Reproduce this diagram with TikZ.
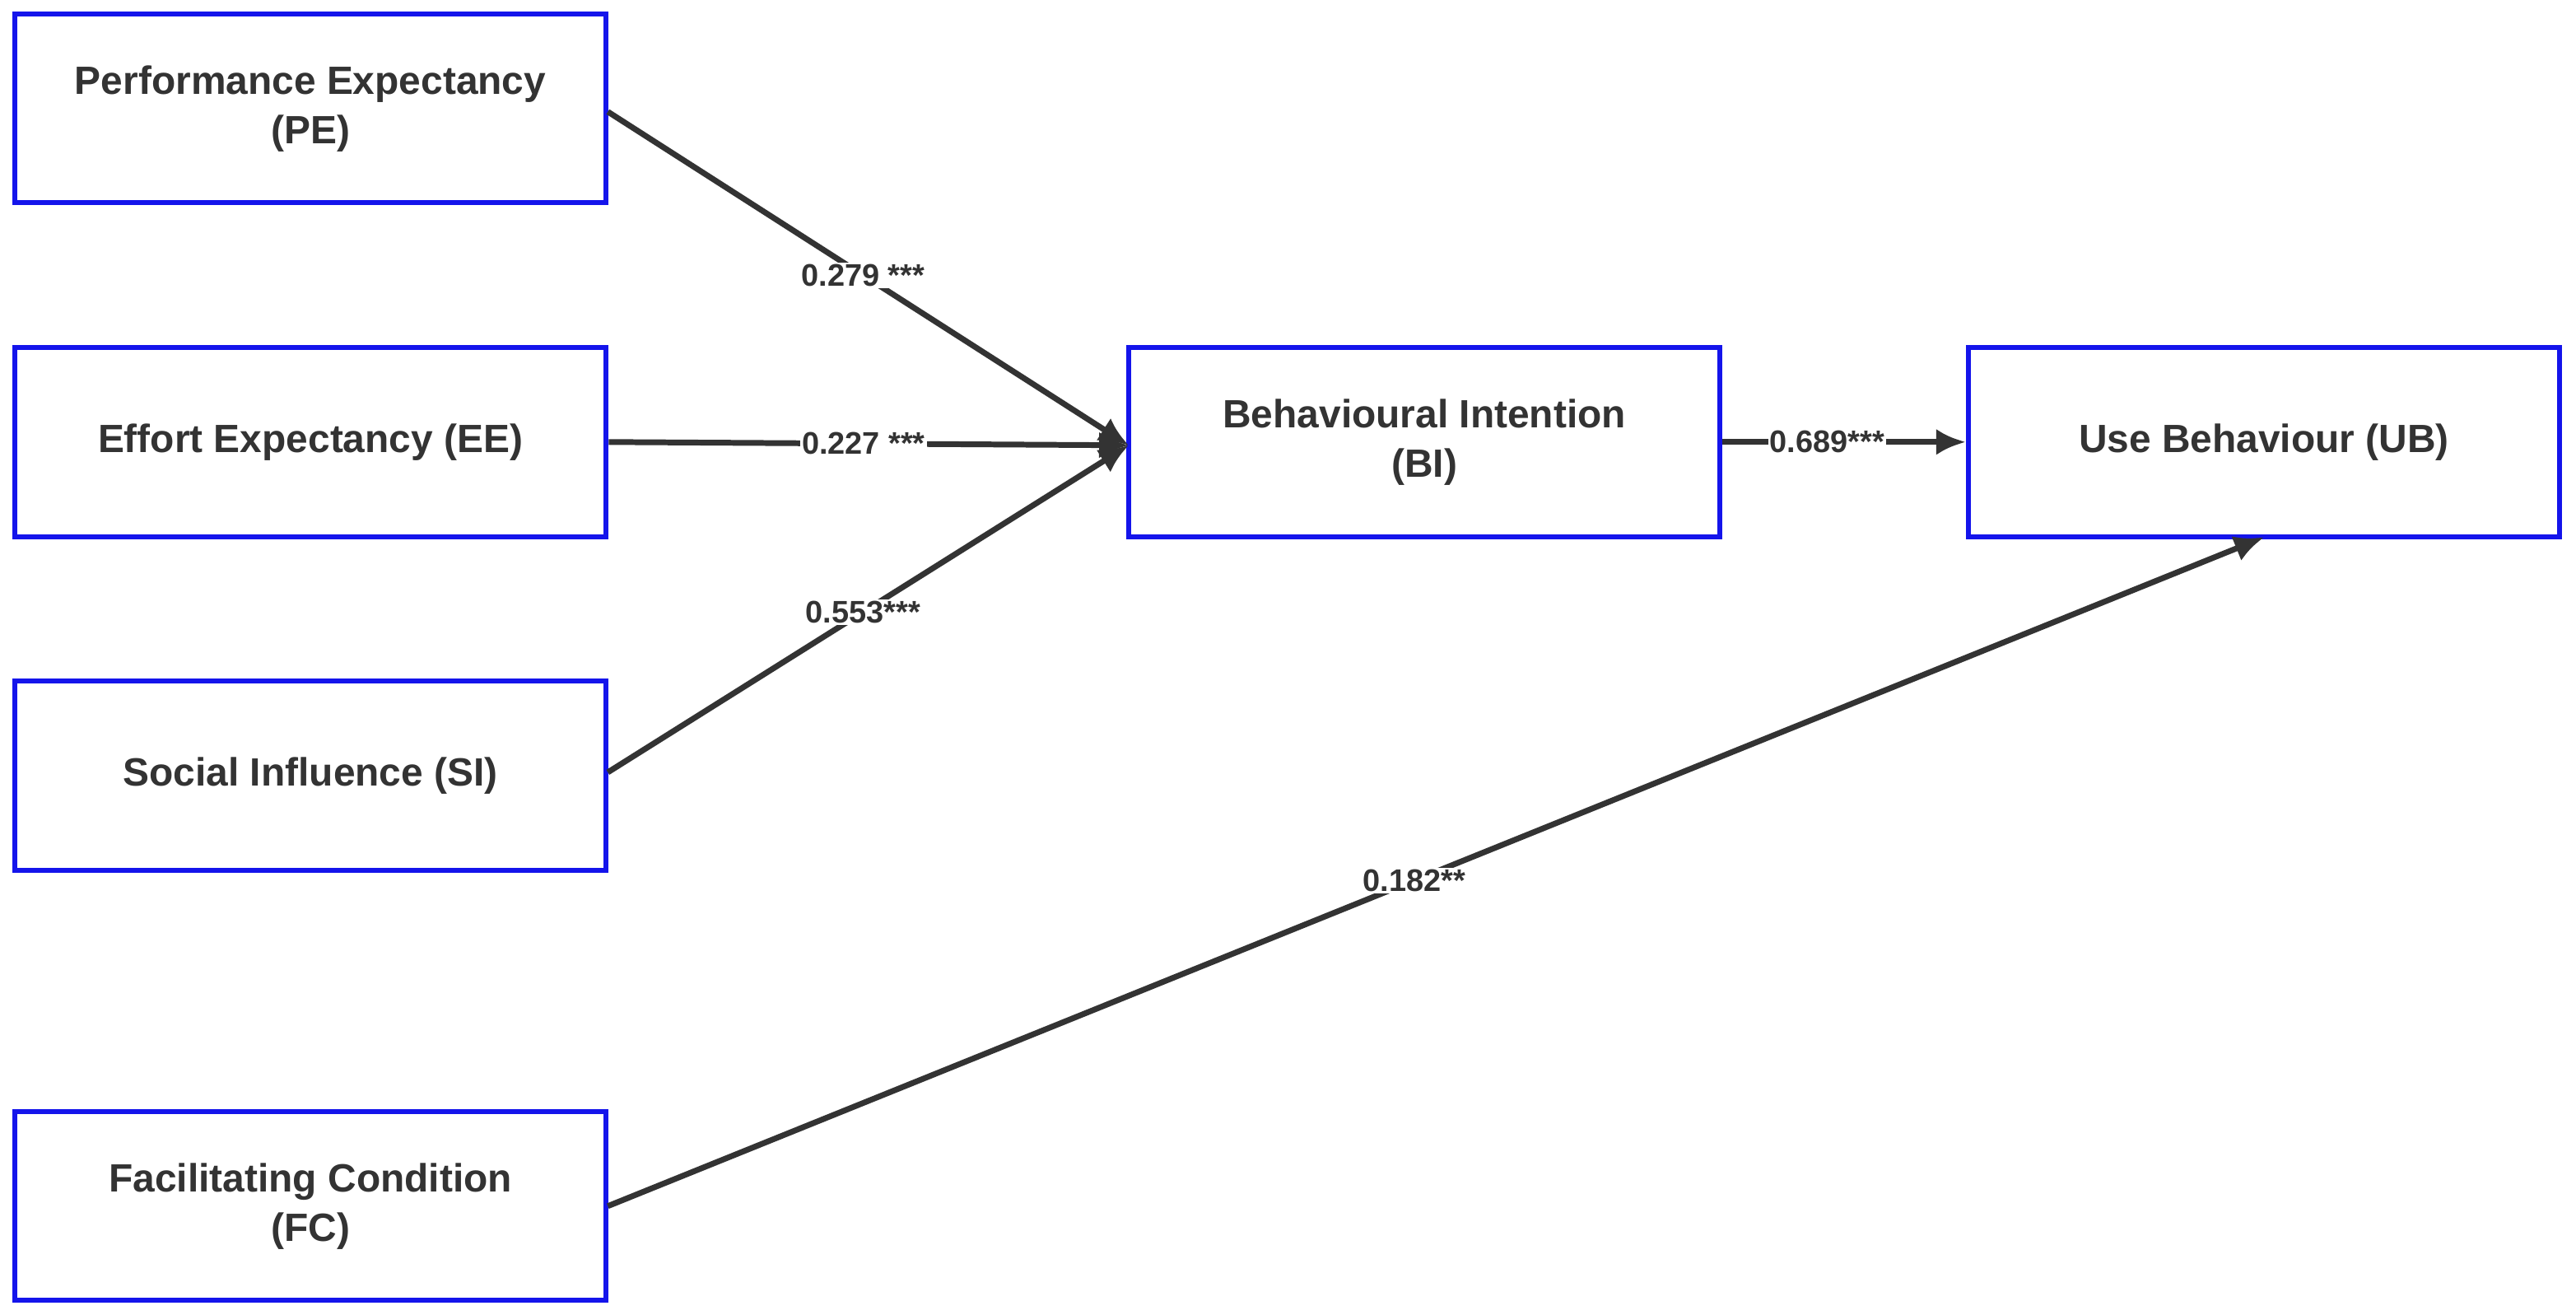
\documentclass[tikz,border=0pt]{standalone}
\usepackage{fontspec}
\setmainfont{Liberation Sans}
\usetikzlibrary{arrows.meta}
\definecolor{boxblue}{RGB}{20,20,235}
\definecolor{ink}{RGB}{51,51,51}
\begin{document}
\begin{tikzpicture}[x=1pt,y=-1pt,
  box/.style={draw=boxblue,line width=3pt,minimum width=360pt,minimum height=115pt,align=center,font=\fontsize{24}{30}\selectfont\bfseries,text=ink},
  conn/.style={draw=ink,line width=3.5pt,-{Latex[length=18pt,width=16pt]}},
  lab/.style={fill=white,inner sep=1pt,font=\fontsize{19}{22}\selectfont\bfseries,text=ink}]
\useasboundingbox (0,0) rectangle (1568,800);
\node[box] (pe) at (189,66) {Performance Expectancy\\(PE)};
\node[box] (ee) at (189,269) {Effort Expectancy (EE)};
\node[box] (si) at (189,472) {Social Influence (SI)};
\node[box] (fc) at (189,734) {Facilitating Condition\\(FC)};
\node[box] (bi) at (867,269) {Behavioural Intention\\(BI)};
\node[box] (ub) at (1378,269) {Use Behaviour (UB)};
\coordinate (bin) at (687,271);
\coordinate (pes) at (370,68);
\coordinate (sis) at (370,470);
\coordinate (fcs) at (370,734);
\coordinate (ubb) at (1378,327);
\draw[conn] (pes) -- node[lab,pos=0.49]{0.279 ***} (bin);
\draw[conn] (ee.east) -- node[lab,pos=0.49]{0.227 ***} (bin);
\draw[conn] (sis) -- node[lab,pos=0.49]{0.553***} (bin);
\draw[conn] (bi.east) -- node[lab,pos=0.43]{0.689***} (ub.west);
\draw[conn] (fcs) -- node[lab,pos=0.487]{0.182**} (ubb);
\end{tikzpicture}
\end{document}
